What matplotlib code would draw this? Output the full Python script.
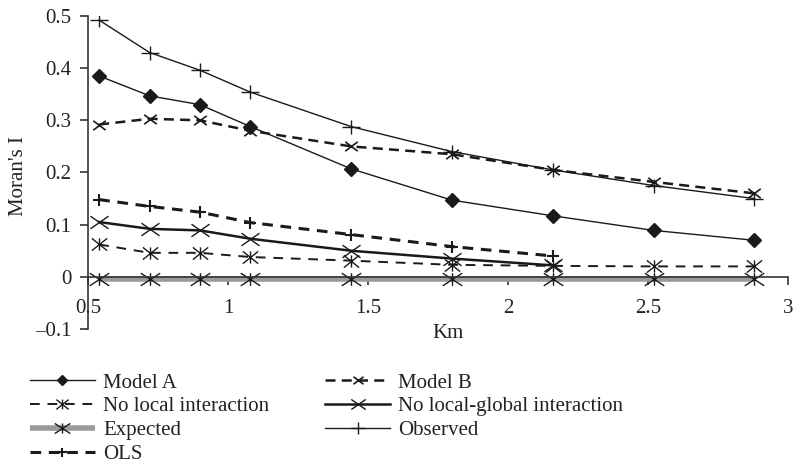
import matplotlib
matplotlib.use("Agg")
import matplotlib.pyplot as plt
from matplotlib.path import Path
import numpy as np

plt.rcParams['font.family'] = ['Liberation Serif', 'DejaVu Serif']

km = [0.54, 0.72, 0.90, 1.08, 1.44, 1.80, 2.16, 2.52, 2.88]
model_a = [0.385, 0.347, 0.330, 0.288, 0.207, 0.147, 0.117, 0.089, 0.070]
model_b = [0.292, 0.303, 0.300, 0.280, 0.250, 0.235, 0.205, 0.182, 0.160]
no_local = [0.062, 0.046, 0.046, 0.038, 0.031, 0.023, 0.021, 0.020, 0.020]
no_local_global = [0.105, 0.092, 0.089, 0.073, 0.050, 0.035, 0.022]
expected = [-0.004] * 9
observed = [0.492, 0.430, 0.396, 0.354, 0.288, 0.240, 0.205, 0.175, 0.150]
ols = [0.148, 0.135, 0.124, 0.104, 0.081, 0.058, 0.040]

xticks = [0.5, 1, 1.5, 2, 2.5, 3]
xticklabels = ['0.5', '1', '1.5', '2', '2.5', '3']
yticks = [0.5, 0.4, 0.3, 0.2, 0.1, 0, -0.1]
yticklabels = ['0.5', '0.4', '0.3', '0.2', '0.1', '0', '\u20130.1']

def xmark(ratio=0.7, vert=False):
    verts = [(-1, -ratio), (1, ratio), (-1, ratio), (1, -ratio)]
    codes = [Path.MOVETO, Path.LINETO, Path.MOVETO, Path.LINETO]
    if vert:
        verts += [(0, -ratio), (0, ratio)]
        codes += [Path.MOVETO, Path.LINETO]
    return Path(verts, codes)

def plusmark(ratio=0.8):
    verts = [(-1, 0), (1, 0), (0, -ratio), (0, ratio)]
    codes = [Path.MOVETO, Path.LINETO, Path.MOVETO, Path.LINETO]
    return Path(verts, codes)

fig = plt.figure(figsize=(7.97, 4.74), dpi=100)
W, H = 797, 474
ax = fig.add_axes([88 / W, 1 - 329 / H, 700 / W, 313 / H])

k = '#1a1a1a'
n1 = len(no_local_global)
n2 = len(ols)

h_exp, = ax.plot(km, expected, color='#9a9a9a', lw=4, solid_capstyle='butt',
                 marker=xmark(0.65, True), ms=14, mec=k, mew=1.0, label='Expected', zorder=2)
h_nl, = ax.plot(km, no_local, color=k, lw=1.4, dashes=(5, 4),
                marker=xmark(0.8, True), ms=11, mec=k, mew=1.0, label='No local interaction', zorder=3)
h_nlg, = ax.plot(km[:n1], no_local_global, color=k, lw=1.8,
                 marker=xmark(0.7), ms=13, mec=k, mew=1.0, label='No local-global interaction', zorder=3)
h_ols, = ax.plot(km[:n2], ols, color=k, lw=2.2, dashes=(3.5, 2.5),
                 marker=plusmark(0.9), ms=9, mec=k, mew=1.5, label='OLS', zorder=3)
h_b, = ax.plot(km, model_b, color=k, lw=1.8, dashes=(4, 2.5),
               marker=xmark(0.75), ms=9, mec=k, mew=1.2, label='Model B', zorder=3)
h_a, = ax.plot(km, model_a, color=k, lw=1.0,
               marker='D', ms=7, mfc=k, mec=k, label='Model A', zorder=4)
h_obs, = ax.plot(km, observed, color=k, lw=1.0,
                 marker=plusmark(0.8), ms=13, mec=k, mew=1.0, label='Observed', zorder=4)

ax.set_xlim(0.5, 3)
ax.set_ylim(-0.1, 0.5)
ax.spines['top'].set_visible(False)
ax.spines['right'].set_visible(False)
ax.spines['bottom'].set_position(('data', 0))
for s in ('left', 'bottom'):
    ax.spines[s].set_color('#333333')
    ax.spines[s].set_linewidth(1.2)

ax.set_xticks(xticks)
ax.set_xticklabels(xticklabels)
ax.set_yticks(yticks)
ax.set_yticklabels(yticklabels)
ax.tick_params(axis='x', direction='out', length=6, width=1.2, color='#333333',
               pad=10, labelsize=15, labelcolor='#222222')
ax.tick_params(axis='y', direction='out', length=6, width=1.2, color='#333333',
               pad=6, labelsize=15, labelcolor='#222222')

ax.set_ylabel("Moran's I", fontsize=15, color='#222222')
ax.yaxis.set_label_coords(-0.086, 0.49)
ax.set_xlabel('Km', fontsize=15, color='#222222')
ax.xaxis.set_label_coords(0.514, 0.015)

handles = [h_a, h_nl, h_exp, h_ols, h_b, h_nlg, h_obs]
leg = fig.legend(handles=handles, labels=[h.get_label() for h in handles],
                 ncol=2, loc='upper left', bbox_to_anchor=(30 / W, 1 - 373 / H),
                 frameon=False, fontsize=15, handlelength=3.1, handletextpad=0.4,
                 columnspacing=2.7, labelspacing=0.2, borderpad=0, borderaxespad=0,
                 markerscale=0.8)
for t in leg.get_texts():
    t.set_color('#222222')

fig.savefig('out.png', dpi=100)
